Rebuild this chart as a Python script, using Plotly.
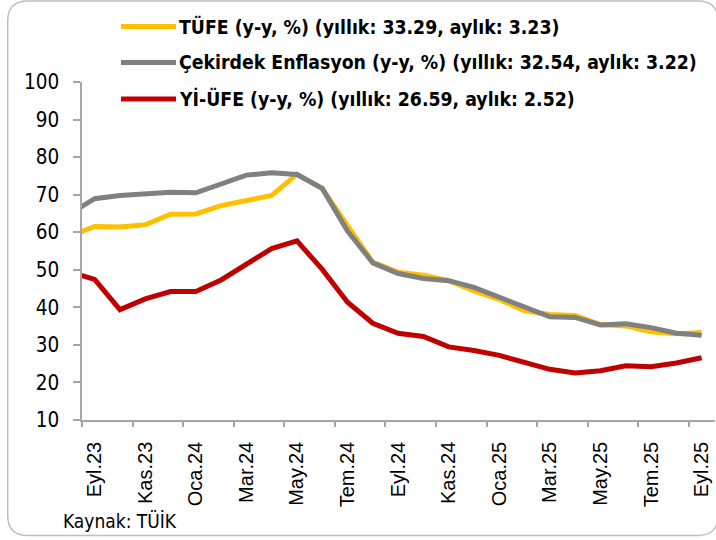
import plotly.graph_objects as go

# ---------------- data ----------------
months = ["Ağu.23", "Eyl.23", "Eki.23", "Kas.23", "Ara.23", "Oca.24", "Şub.24", "Mar.24",
          "Nis.24", "May.24", "Haz.24", "Tem.24", "Ağu.24", "Eyl.24", "Eki.24", "Kas.24",
          "Ara.24", "Oca.25", "Şub.25", "Mar.25", "Nis.25", "May.25", "Haz.25", "Tem.25",
          "Ağu.25", "Eyl.25"]
tufe = [58.94, 61.53, 61.36, 61.98, 64.77, 64.86, 67.07, 68.50, 69.80, 75.45, 71.60, 61.78,
        51.97, 49.38, 48.58, 47.09, 44.38, 42.12, 39.05, 38.10, 37.86, 35.41, 35.05, 33.52,
        32.95, 33.29]
cekirdek = [64.83, 68.93, 69.76, 70.20, 70.62, 70.49, 72.88, 75.21, 75.81, 75.35, 71.67, 60.31,
            51.84, 49.00, 47.70, 47.10, 45.30, 42.60, 40.10, 37.50, 37.30, 35.30, 35.60, 34.60,
            33.10, 32.54]
yiufe = [49.41, 47.44, 39.39, 42.25, 44.22, 44.20, 47.29, 51.47, 55.66, 57.68, 50.09, 41.37,
         35.75, 33.09, 32.24, 29.47, 28.52, 27.20, 25.21, 23.50, 22.50, 23.13, 24.45, 24.19,
         25.16, 26.59]
series_names = ["TÜFE (y-y, %) (yıllık: 33.29, aylık: 3.23)",
                "Çekirdek Enflasyon (y-y, %) (yıllık: 32.54, aylık: 3.22)",
                "Yİ-ÜFE (y-y, %) (yıllık: 26.59, aylık: 2.52)"]
colors = ["#FFC000", "#808080", "#C00000"]
source_text = "Kaynak: TÜİK"

# ---------------- layout geometry ----------------
W, H = 716, 540
L, R, T, B = 82, 1, 82, 120
pw, ph = W - L - R, H - T - B
PX_PER_MONTH = 25.29
NARROW = "Liberation Sans Narrow, DejaVu Sans Condensed, sans-serif"


def px(x):
    return (x - L) / pw


def py(y):
    return (H - B - y) / ph


x_idx = list(range(-1, len(months) - 1))  # Eyl.23 -> 0
tickvals = [i for i in x_idx if i >= 0 and i % 2 == 0]
ticktext = [months[i + 1] for i in tickvals]
minor_vals = [v - 0.5 for v in tickvals]

fig = go.Figure()
for vals, name, col in zip([tufe, cekirdek, yiufe], series_names, colors):
    fig.add_trace(go.Scatter(x=x_idx, y=vals, mode="lines", name=name,
                             line=dict(color=col, width=5), showlegend=False,
                             hoverinfo="skip"))

axis_col = "#A6A6A6"
fig.update_layout(
    width=W, height=H,
    margin=dict(l=L, r=R, t=T, b=B, pad=0),
    paper_bgcolor="white", plot_bgcolor="white",
    xaxis=dict(range=[-0.5, -0.5 + pw / PX_PER_MONTH], tickmode="array",
               tickvals=tickvals, ticktext=ticktext, tickangle=-90, ticks="",
               showline=True, linecolor=axis_col, linewidth=1.5, showgrid=False,
               zeroline=False, ticklabelstandoff=12,
               tickfont=dict(family="Liberation Sans, Arial, sans-serif", size=20, color="black"),
               minor=dict(tickmode="array", tickvals=minor_vals, ticks="outside",
                          ticklen=5, tickwidth=1.5, tickcolor=axis_col, showgrid=False)),
    yaxis=dict(range=[10, 100], dtick=10, tick0=10, ticks="outside", ticklen=7,
               tickwidth=1.5, tickcolor=axis_col, showline=True, linecolor=axis_col,
               linewidth=1.5, showgrid=False, zeroline=False, ticklabelstandoff=10,
               tickfont=dict(family=NARROW, size=20.5, color="black")),
)

# legend (drawn manually)
leg_rows = [26.5, 62.5, 99.0]
shapes = []
annotations = []
for name, col, yy in zip(series_names, colors, leg_rows):
    shapes.append(dict(type="line", xref="paper", yref="paper", x0=px(121), x1=px(176),
                       y0=py(yy), y1=py(yy), line=dict(color=col, width=5)))
    annotations.append(dict(xref="paper", yref="paper", x=px(177), y=py(yy), xanchor="left",
                            yanchor="middle", showarrow=False, text="<b>%s</b>" % name,
                            font=dict(family=NARROW, size=19.3, color="black")))
annotations.append(dict(xref="paper", yref="paper", x=px(61), y=py(521), xanchor="left",
                        yanchor="middle", showarrow=False, text=source_text,
                        font=dict(family=NARROW, size=19, color="black")))

# rounded outer border
x0, x1, y0, y1, r = 7.7, 718, 1.0, 535.5, 20
path = ("M {a},{b} L {c},{b} Q {x1},{b} {x1},{d} L {x1},{e} Q {x1},{f} {c},{f} "
        "L {a},{f} Q {x0},{f} {x0},{e} L {x0},{d} Q {x0},{b} {a},{b} Z").format(
    a=px(x0 + r), b=py(y0), c=px(x1 - r), d=py(y0 + r), e=py(y1 - r), f=py(y1),
    x0=px(x0), x1=px(x1))
shapes.append(dict(type="path", xref="paper", yref="paper", path=path,
                   line=dict(color="#BFBFBF", width=1.5), fillcolor="rgba(0,0,0,0)"))

fig.update_layout(shapes=shapes, annotations=annotations)
fig.write_html("out.html", config={"displayModeBar": False},
               post_script="document.body.style.margin='0';document.body.style.overflow='hidden';")
